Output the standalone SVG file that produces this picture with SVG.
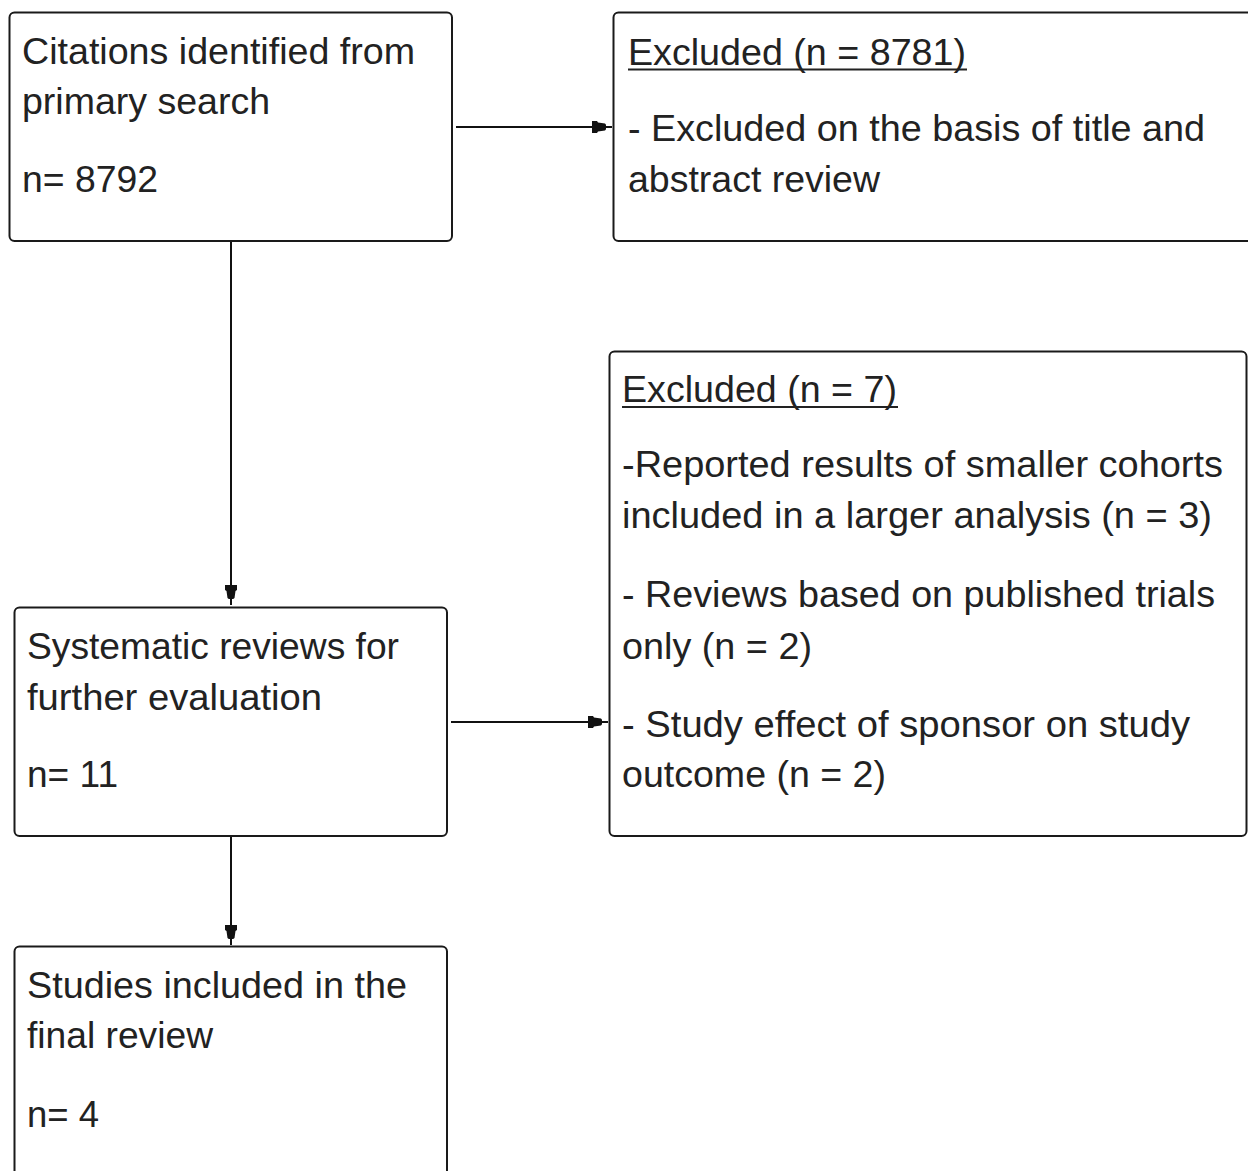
<svg xmlns="http://www.w3.org/2000/svg" width="1248" height="1171" viewBox="0 0 1248 1171">
  <defs>
    <style>
      .box { fill: #ffffff; stroke: #1a1a1a; stroke-width: 2; }
      .conn { fill: none; stroke: #111111; stroke-width: 2; }
      .t { font-family: "Liberation Sans", Arial, sans-serif; font-size: 36px; fill: #222222; }
      .ul { stroke: #222222; stroke-width: 2; }
    </style>
    <marker id="head" markerUnits="userSpaceOnUse" viewBox="0 -7 22 14" refX="20" refY="0" markerWidth="22" markerHeight="14" orient="auto">
      <path d="M0,-6 L5,-6 L6,-4.5 L13,-3.5 L14,-2.2 L14,2.2 L13,3.5 L6,4.5 L5,6 L0,6 Z" fill="#111111"/>
    </marker>
  </defs>
  <rect width="1248" height="1171" fill="#ffffff"/>

  <g id="connectors">
    <line class="conn" x1="456" y1="127" x2="612" y2="127" marker-end="url(#head)"/>
    <line class="conn" x1="231" y1="241" x2="231" y2="605" marker-end="url(#head)"/>
    <line class="conn" x1="451" y1="722" x2="608" y2="722" marker-end="url(#head)"/>
    <line class="conn" x1="231" y1="836" x2="231" y2="945" marker-end="url(#head)"/>
  </g>

  <g id="node-citations">
    <rect class="box" x="9.5" y="12.5" width="442.5" height="228.5" rx="5"/>
    <text class="t" x="22" y="64" textLength="393" lengthAdjust="spacingAndGlyphs">Citations identified from</text>
    <text class="t" x="22" y="114" textLength="248" lengthAdjust="spacingAndGlyphs">primary search</text>
    <text class="t" x="22" y="192" textLength="136" lengthAdjust="spacingAndGlyphs">n= 8792</text>
  </g>

  <g id="node-excluded-8781">
    <rect class="box" x="613.5" y="12.5" width="640" height="228.5" rx="5"/>
    <text class="t" x="628" y="65" textLength="338" lengthAdjust="spacingAndGlyphs">Excluded (n = 8781)</text>
    <line class="ul" x1="628" y1="69.5" x2="967" y2="69.5"/>
    <text class="t" x="628" y="141" textLength="577" lengthAdjust="spacingAndGlyphs">- Excluded on the basis of title and</text>
    <text class="t" x="628" y="192" textLength="252" lengthAdjust="spacingAndGlyphs">abstract review</text>
  </g>

  <g id="node-excluded-7">
    <rect class="box" x="609.5" y="351.5" width="637" height="484.5" rx="5"/>
    <text class="t" x="622" y="402" textLength="275" lengthAdjust="spacingAndGlyphs">Excluded (n = 7)</text>
    <line class="ul" x1="622" y1="407" x2="898" y2="407"/>
    <text class="t" x="622" y="477" textLength="601" lengthAdjust="spacingAndGlyphs">-Reported results of smaller cohorts</text>
    <text class="t" x="622" y="528" textLength="590" lengthAdjust="spacingAndGlyphs">included in a larger analysis (n = 3)</text>
    <text class="t" x="622" y="607" textLength="593" lengthAdjust="spacingAndGlyphs">- Reviews based on published trials</text>
    <text class="t" x="622" y="659" textLength="190" lengthAdjust="spacingAndGlyphs">only (n = 2)</text>
    <text class="t" x="622" y="737" textLength="568" lengthAdjust="spacingAndGlyphs">- Study effect of sponsor on study</text>
    <text class="t" x="622" y="787" textLength="264" lengthAdjust="spacingAndGlyphs">outcome (n = 2)</text>
  </g>

  <g id="node-systematic">
    <rect class="box" x="14.5" y="607.5" width="432.5" height="228.5" rx="5"/>
    <text class="t" x="27" y="659" textLength="372" lengthAdjust="spacingAndGlyphs">Systematic reviews for</text>
    <text class="t" x="27" y="710" textLength="295" lengthAdjust="spacingAndGlyphs">further evaluation</text>
    <text class="t" x="27" y="787" textLength="91" lengthAdjust="spacingAndGlyphs">n= 11</text>
  </g>

  <g id="node-studies">
    <rect class="box" x="14.5" y="946.5" width="432.5" height="240" rx="5"/>
    <text class="t" x="27" y="998" textLength="380" lengthAdjust="spacingAndGlyphs">Studies included in the</text>
    <text class="t" x="27" y="1048" textLength="186" lengthAdjust="spacingAndGlyphs">final review</text>
    <text class="t" x="27" y="1127" textLength="72" lengthAdjust="spacingAndGlyphs">n= 4</text>
  </g>
</svg>
